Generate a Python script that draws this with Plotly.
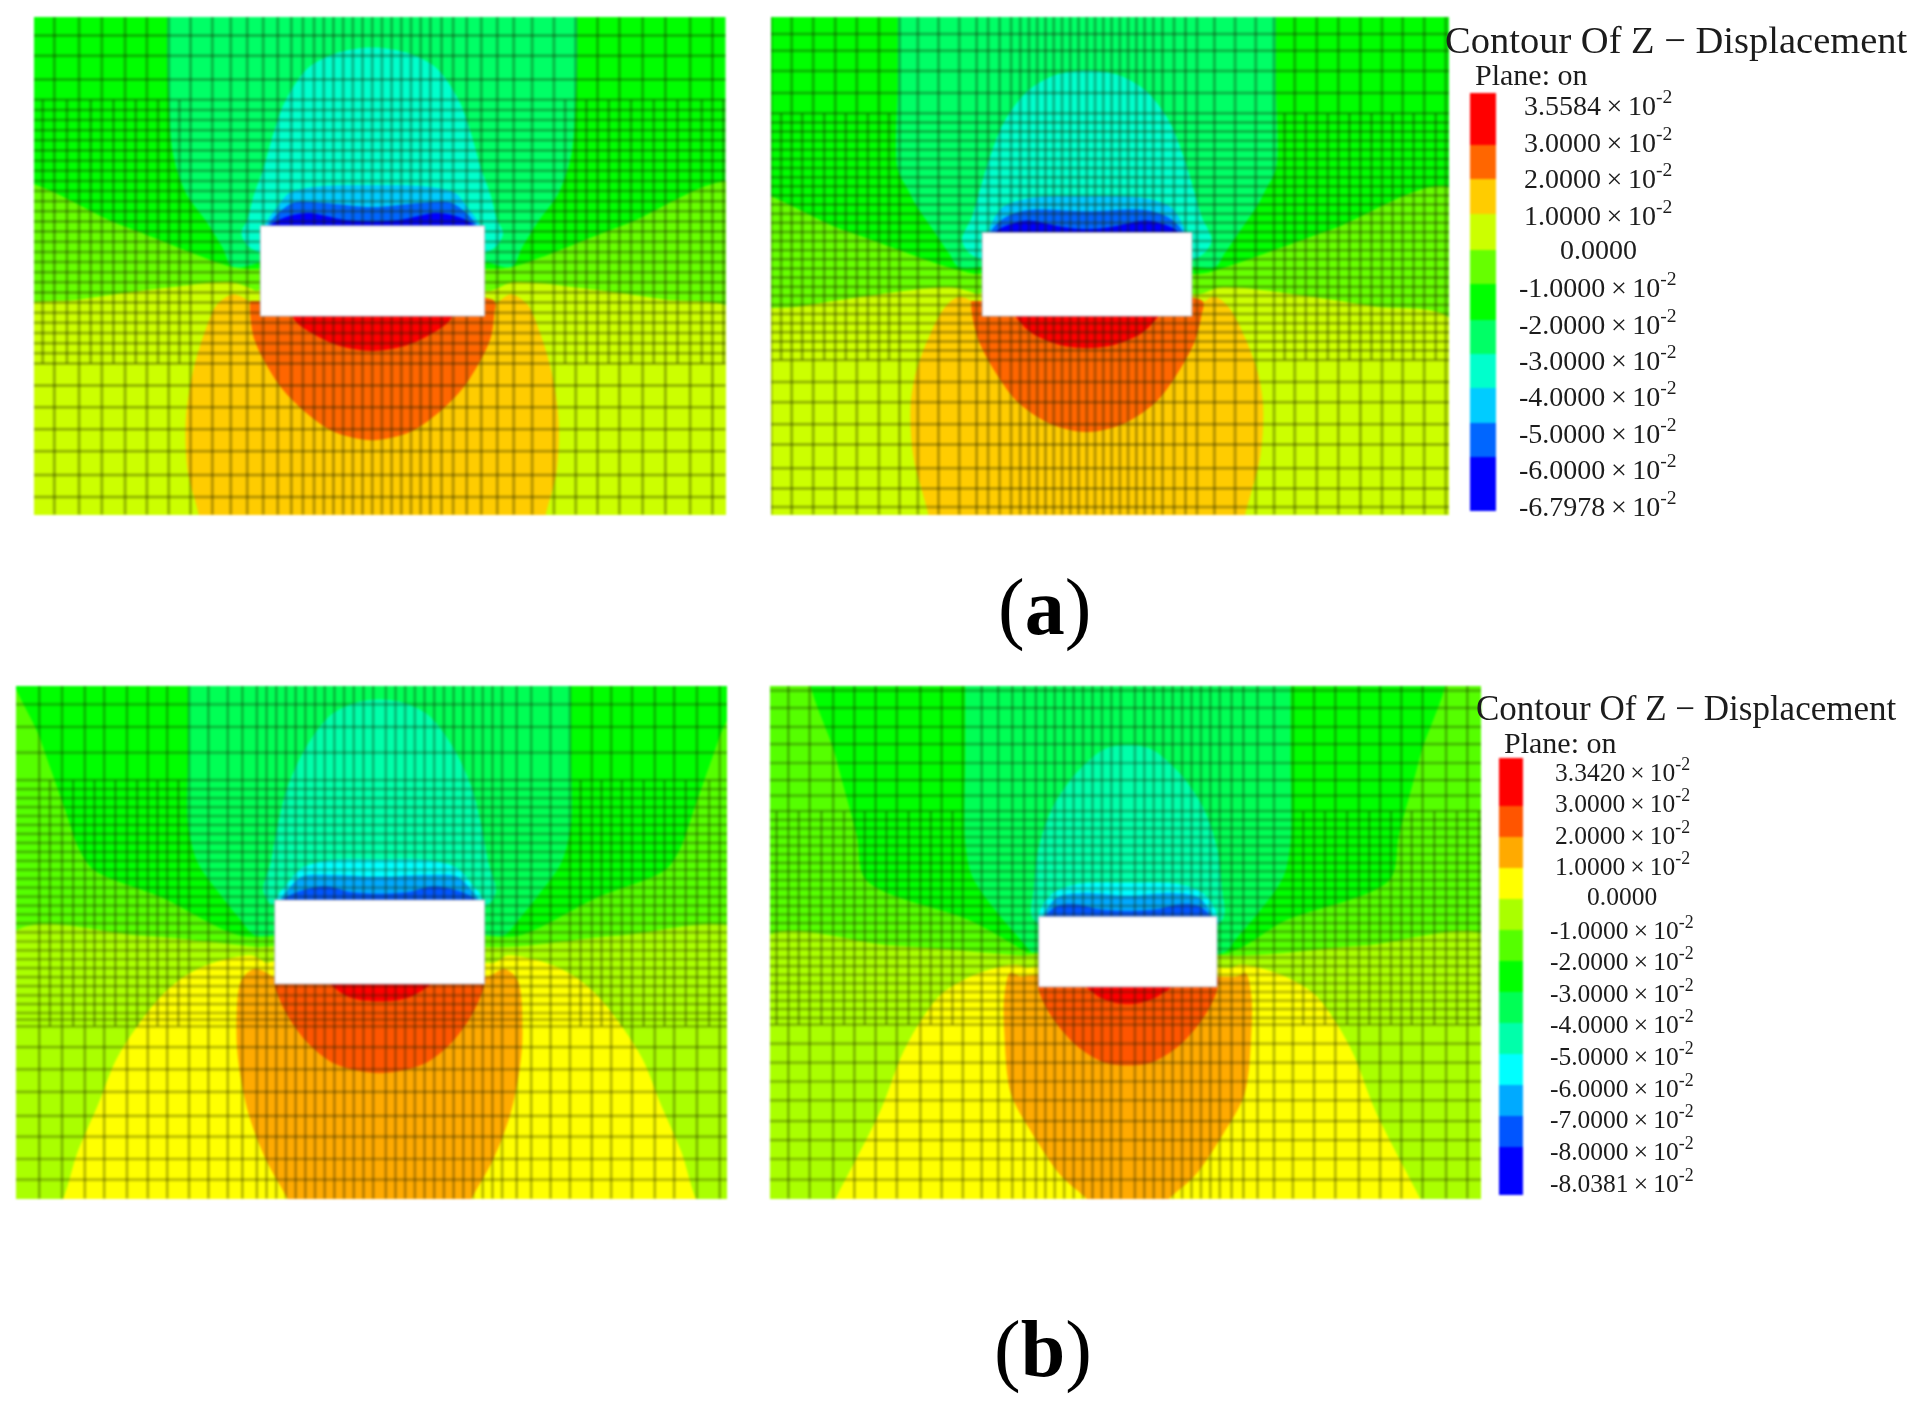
"""FLAC3D style Z-displacement contours around a tunnel, four panels plus two legends."""

from __future__ import annotations

import plotly.graph_objects as go

FONT = "Liberation Serif"

# legend colours, top to bottom
COLORS_A = ["#ff0000", "#ff6600", "#ffcc00", "#ccff00", "#66ff00", "#00ff00",
            "#00ff66", "#00ffcc", "#00ccff", "#0066ff", "#0000ff"]
COLORS_B = ["#ff0000", "#ff5500", "#ffaa00", "#ffff00", "#aaff00", "#55ff00", "#00ff00",
            "#00ff55", "#00ffaa", "#00ffff", "#00aaff", "#0055ff", "#0000ff"]

LABELS_A = ["3.5584", "3.0000", "2.0000", "1.0000", "0.0000", "-1.0000", "-2.0000",
            "-3.0000", "-4.0000", "-5.0000", "-6.0000", "-6.7978"]
LABELS_B = ["3.3420", "3.0000", "2.0000", "1.0000", "0.0000", "-1.0000", "-2.0000", "-3.0000",
            "-4.0000", "-5.0000", "-6.0000", "-7.0000", "-8.0000", "-8.0381"]

LEGEND_EDGES_A = [275, 430, 530, 633, 738, 840, 945, 1047, 1147, 1250, 1352, 1510]
LEGEND_EDGES_B = [255, 395, 485, 575, 665, 755, 845, 935, 1025, 1115, 1205, 1295, 1385, 1525]

# contour outlines: (legend colour index, half outline as (offset from tunnel axis, depth))
# painted in this order, each mirrored about the tunnel axis
A1_BANDS = [
    (6, [(0, -50), (200, -50), (423, -50), (423, 50), (423, 180), (420, 300), (412, 450), (385, 570), (345, 650), (310, 730), (288, 790), (230, 775), (0, 775)]),
    (7, [(0, 140), (70, 155), (132, 200), (180, 300), (205, 400), (225, 500), (245, 580), (258, 650), (270, 690), (255, 730), (225, 750), (0, 750)]),
    (8, [(0, 548), (100, 550), (170, 570), (195, 610), (222, 668), (222, 700), (0, 700)]),
    (9, [(0, 612), (100, 600), (160, 598), (190, 625), (215, 668), (215, 700), (0, 700)]),
    (10, [(0, 655), (60, 650), (130, 630), (175, 640), (210, 668), (210, 700), (0, 700)]),
    (4, [(0, 780), (240, 795), (288, 790), (520, 665), (760, 545), (760, 1620), (0, 1620)]),
    (3, [(0, 780), (240, 860), (290, 835), (420, 850), (600, 885), (760, 930), (760, 1620), (0, 1620)]),
    (2, [(0, 800), (245, 900), (286, 870), (320, 900), (345, 980), (370, 1100), (385, 1250), (380, 1400), (358, 1522), (345, 1620), (0, 1620)]),
    (1, [(0, 1302), (78, 1278), (147, 1208), (195, 1133), (243, 1006), (252, 925), (252, 890), (0, 890)]),
    (0, [(0, 880), (170, 900), (160, 947), (125, 985), (70, 1022), (0, 1038)]),
]
A2_BANDS = [
    (6, [(0, -50), (200, -50), (412, -50), (412, 50), (412, 250), (412, 500), (390, 560), (375, 600), (335, 680), (300, 750), (280, 790), (230, 790), (0, 790)]),
    (7, [(0, 208), (70, 222), (130, 270), (180, 360), (210, 460), (235, 570), (250, 640), (272, 710), (255, 750), (225, 770), (0, 770)]),
    (8, [(0, 580), (120, 585), (185, 615), (215, 688), (215, 720), (0, 720)]),
    (9, [(0, 625), (130, 622), (180, 645), (210, 688), (210, 720), (0, 720)]),
    (10, [(0, 678), (50, 672), (130, 652), (170, 665), (200, 688), (200, 720), (0, 720)]),
    (4, [(0, 800), (245, 810), (303, 790), (530, 680), (800, 560), (800, 1620), (0, 1620)]),
    (3, [(0, 800), (240, 870), (290, 850), (450, 870), (620, 905), (800, 952), (800, 1620), (0, 1620)]),
    (2, [(0, 800), (240, 900), (278, 878), (310, 910), (345, 1000), (372, 1100), (384, 1200), (378, 1350), (345, 1522), (330, 1620), (0, 1620)]),
    (1, [(0, 1278), (78, 1255), (150, 1190), (195, 1110), (235, 1010), (250, 930), (252, 890), (0, 890)]),
    (0, [(0, 880), (170, 900), (150, 945), (120, 985), (60, 1020), (0, 1030)]),
]
B1_BANDS = [
    (6, [(0, -50), (760, -50), (700, 200), (650, 400), (620, 520), (590, 580), (450, 660), (290, 770), (200, 770), (0, 770)]),
    (7, [(0, -50), (200, -50), (395, -50), (395, 50), (395, 250), (395, 450), (375, 560), (330, 650), (290, 720), (258, 770), (220, 770), (0, 770)]),
    (8, [(0, 85), (50, 95), (100, 130), (150, 220), (190, 340), (210, 450), (225, 560), (240, 640), (225, 680), (0, 680)]),
    (9, [(0, 550), (100, 552), (160, 575), (190, 620), (215, 668), (215, 700), (0, 700)]),
    (10, [(0, 600), (100, 595), (160, 600), (190, 640), (205, 668), (205, 700), (0, 700)]),
    (11, [(0, 650), (60, 645), (110, 628), (160, 640), (200, 668), (200, 700), (0, 700)]),
    (4, [(0, 780), (250, 805), (500, 770), (760, 768), (760, 1620), (0, 1620)]),
    (3, [(0, 800), (235, 850), (263, 830), (343, 850), (403, 890), (453, 950), (503, 1040), (543, 1130), (583, 1270), (623, 1400), (653, 1535), (690, 1620), (0, 1620)]),
    (2, [(0, 800), (220, 890), (258, 868), (285, 900), (295, 1050), (290, 1150), (270, 1290), (235, 1420), (190, 1535), (160, 1620), (0, 1620)]),
    (1, [(0, 1170), (90, 1145), (150, 1080), (195, 990), (217, 912), (217, 890), (0, 890)]),
    (0, [(0, 880), (120, 890), (70, 945), (30, 960), (0, 962)]),
]
B2_BANDS = [
    (6, [(0, -50), (670, -50), (620, 250), (575, 480), (555, 610), (330, 730), (215, 820), (0, 820)]),
    (7, [(0, -50), (200, -50), (345, -50), (345, 50), (345, 250), (345, 500), (330, 600), (280, 700), (230, 780), (205, 820), (0, 820)]),
    (8, [(0, 218), (50, 230), (110, 300), (160, 400), (190, 520), (200, 640), (205, 710), (190, 740), (0, 740)]),
    (9, [(0, 618), (100, 620), (150, 640), (175, 670), (190, 716), (190, 740), (0, 740)]),
    (10, [(0, 655), (100, 648), (150, 660), (180, 716), (180, 740), (0, 740)]),
    (11, [(0, 700), (60, 695), (110, 680), (150, 685), (175, 716), (175, 740), (0, 740)]),
    (4, [(0, 800), (220, 830), (500, 800), (780, 785), (780, 1620), (0, 1620)]),
    (3, [(0, 820), (215, 865), (240, 855), (325, 885), (395, 940), (440, 1020), (480, 1120), (525, 1280), (620, 1535), (650, 1620), (0, 1620)]),
    (2, [(0, 860), (230, 890), (250, 880), (262, 950), (262, 1050), (248, 1230), (201, 1350), (141, 1470), (88, 1535), (40, 1620), (0, 1620)]),
    (1, [(0, 1148), (50, 1140), (110, 1090), (165, 1000), (190, 925), (190, 890), (0, 890)]),
    (0, [(0, 880), (105, 900), (60, 950), (20, 968), (0, 970)]),
]

# mesh lines: offsets of columns from the tunnel axis, extra columns inside the refined band, row depths
A1_COLUMNS = [0, 20, 40, 60, 80, 100, 120, 143, 167, 195, 225, 258, 292, 330, 375, 420, 465, 510, 558, 605, 656, 702]
A1_BAND_COLUMNS = [398, 442, 488, 534, 581, 630, 680, 725]
A1_ROWS = [105, 165, 235, 295, 325, 355, 385, 415, 445, 475, 505, 535, 565, 595, 625, 655, 685, 715, 745,
           775, 805, 835, 865, 895, 925, 955, 985, 1015, 1045, 1075, 1140, 1205, 1270, 1335, 1405, 1470]
A2_COLUMNS = [0, 18, 36, 54, 72, 90, 108, 126, 145, 165, 190, 215, 240, 278, 323, 368, 408, 453, 501, 548, 596, 643, 688, 735, 782]
A2_BAND_COLUMNS = [431, 477, 525, 572, 620, 666, 712, 760]
A2_ROWS = [100, 150, 210, 275, 335, 362, 389, 416, 443, 470, 497, 524, 551, 578, 605, 632, 659, 686, 713, 740, 767, 794,
           821, 848, 875, 902, 929, 956, 983, 1010, 1037, 1065, 1130, 1190, 1255, 1315, 1385, 1445, 1500]
B1_COLUMNS = [13, 33, 53, 73, 93, 113, 133, 153, 173, 193, 213, 233, 253, 283, 313, 353, 393, 438, 478, 521, 568, 608, 655, 702]
B1_BAND_COLUMNS = [415, 458, 500, 545, 588, 632, 680]
B1_ROWS = [100, 165, 240, 320, 346, 372, 398, 424, 450, 476, 502, 528, 554, 580, 606, 632, 658, 684, 710, 736, 762,
           788, 814, 840, 866, 892, 918, 945, 970, 996, 1015, 1035, 1095, 1160, 1225, 1295, 1355, 1420, 1480]
B2_COLUMNS = [15, 35, 55, 75, 95, 115, 135, 155, 175, 195, 220, 245, 275, 310, 350, 395, 440, 490, 535, 580, 625, 675, 720, 770]
B2_BAND_COLUMNS = [372, 418, 465, 512, 558, 602, 650, 698, 745]
B2_ROWS = [60, 110, 165, 215, 270, 320, 365, 410, 435, 460, 485, 510, 535, 560, 585, 610, 635, 660, 685, 710, 735, 760,
           785, 810, 835, 860, 885, 910, 935, 960, 985, 1010, 1030, 1085, 1140, 1195, 1250, 1310, 1365, 1420, 1480]

# panel specs. range = visible extent of the contour image, pixel = where it sits on the page
PANELS = [
    dict(axis="", bands=A1_BANDS, colors=COLORS_A, columns=A1_COLUMNS, band_columns=A1_BAND_COLUMNS, rows=A1_ROWS, mesh=3,
         axis_x=768, xr=(70, 1497), yr=(50, 1522), band_y=(295, 1075), tunnel=(537, 1000, 668, 935), pixel=(34, 725.5, 17, 514.5)),
    dict(axis="2", bands=A2_BANDS, colors=COLORS_A, columns=A2_COLUMNS, band_columns=A2_BAND_COLUMNS, rows=A2_ROWS, mesh=3,
         axis_x=733, xr=(45, 1522), yr=(50, 1522), band_y=(335, 1065), tunnel=(505, 962, 688, 935), pixel=(771, 1449, 17, 514.5)),
    dict(axis="3", bands=B1_BANDS, colors=COLORS_B, columns=B1_COLUMNS, band_columns=B1_BAND_COLUMNS, rows=B1_ROWS, mesh=2.7,
         axis_x=783, xr=(33, 1500), yr=(45, 1535), band_y=(320, 1035), tunnel=(567, 1000, 668, 912), pixel=(16, 727, 685.5, 1198.6)),
    dict(axis="4", bands=B2_BANDS, colors=COLORS_B, columns=B2_COLUMNS, band_columns=B2_BAND_COLUMNS, rows=B2_ROWS, mesh=2.7,
         axis_x=801, xr=(42, 1550), yr=(45, 1535), band_y=(410, 1030), tunnel=(612, 990, 716, 920), pixel=(770, 1481, 685.5, 1198.6)),
]

WIDTH, HEIGHT = 1919, 1411


def _px(x: float) -> float:
    return x / WIDTH


def _py(y: float) -> float:
    return 1 - y / HEIGHT


def _mirror(axis_x: float, outline: list[tuple[int, int]], tunnel) -> tuple[list[float], list[float]]:
    # spline paths get a cusp where they start, so start them behind the white tunnel
    if tunnel[2] < outline[-1][1] < tunnel[3]:
        outline = outline[::-1]
    right = [(axis_x + dx, y) for dx, y in outline]
    left = [(axis_x - dx, y) for dx, y in reversed(outline) if dx != 0]
    pts = right + left
    return [p[0] for p in pts], [p[1] for p in pts]


def _axes(fig: go.Figure, suffix: str, pixel, xr, yr) -> None:
    common = dict(showgrid=False, zeroline=False, showticklabels=False, ticks="", showline=False)
    fig.layout[f"xaxis{suffix}"] = dict(common, domain=[_px(pixel[0]), _px(pixel[1])], range=list(xr),
                                        anchor=f"y{suffix}")
    fig.layout[f"yaxis{suffix}"] = dict(common, domain=[_py(pixel[3]), _py(pixel[2])], range=[yr[1], yr[0]],
                                        anchor=f"x{suffix}")


def _add_panel(fig: go.Figure, p: dict) -> None:
    xref, yref = f"x{p['axis']}", f"y{p['axis']}"
    x0, x1 = p["xr"]
    y0, y1 = p["yr"]
    _axes(fig, p["axis"], p["pixel"], p["xr"], p["yr"])

    fig.add_trace(go.Scatter(x=[x0, x1, x1, x0], y=[y0, y0, y1, y1], fill="toself", fillcolor=p["colors"][5],
                             mode="none", xaxis=xref, yaxis=yref, hoverinfo="skip"))
    for idx, outline in p["bands"]:
        xs, ys = _mirror(p["axis_x"], outline, p["tunnel"])
        fig.add_trace(go.Scatter(x=xs, y=ys, fill="toself", fillcolor=p["colors"][idx], mode="lines",
                                 line=dict(width=0, shape="spline", smoothing=0.9, color=p["colors"][idx]),
                                 xaxis=xref, yaxis=yref, hoverinfo="skip"))

    # mesh
    mx, my = [], []
    for dx in p["columns"]:
        for c in {p["axis_x"] + dx, p["axis_x"] - dx}:
            mx += [c, c, None]
            my += [y0, y1, None]
    for dx in p["band_columns"]:
        for c in (p["axis_x"] + dx, p["axis_x"] - dx):
            mx += [c, c, None]
            my += [p["band_y"][0], p["band_y"][1], None]
    for r in p["rows"]:
        mx += [x0, x1, None]
        my += [r, r, None]
    fig.add_trace(go.Scatter(x=mx, y=my, mode="lines", line=dict(color="rgba(25,30,0,0.3)", width=p["mesh"]),
                             xaxis=xref, yaxis=yref, hoverinfo="skip"))

    tx0, tx1, ty0, ty1 = p["tunnel"]
    fig.add_trace(go.Scatter(x=[tx0, tx1, tx1, tx0, tx0], y=[ty0, ty0, ty1, ty1, ty0], fill="toself",
                             fillcolor="white", mode="lines", line=dict(color="#b9b9c8", width=1),
                             xaxis=xref, yaxis=yref, hoverinfo="skip"))


def _add_legend(fig, suffix, colors, edges, pixel) -> None:
    _axes(fig, suffix, pixel, (0, 1), (edges[0], edges[-1]))
    n = len(colors)
    scale = []
    for i, c in enumerate(colors):
        scale += [[i / n, c], [(i + 1) / n, c]]
    fig.add_trace(go.Heatmap(x=[0, 1], y=edges, z=[[i] for i in range(n)], colorscale=scale, zmin=0, zmax=n,
                             showscale=False, xaxis=f"x{suffix}", yaxis=f"y{suffix}", hoverinfo="skip"))


def _text(fig, x, y, text, size, color="#1c1c1c") -> None:
    fig.add_annotation(xref="paper", yref="paper", x=_px(x), y=_py(y), text=text,
                       showarrow=False, xanchor="center", yanchor="middle",
                       font=dict(family=FONT, size=size, color=color))


def _labels(fig, labels, xc, y_first, y_last, size) -> None:
    step = (y_last - y_first) / (len(labels) - 1)
    for i, lab in enumerate(labels):
        text = lab if lab == "0.0000" else f"{lab}\u2009×\u200910<sup>-2</sup>"
        _text(fig, xc, y_first + i * step, text, size)


fig = go.Figure()
for panel in PANELS:
    _add_panel(fig, panel)
_add_legend(fig, "5", COLORS_A, LEGEND_EDGES_A, (1470, 1496, 93, 510.5))
_add_legend(fig, "6", COLORS_B, LEGEND_EDGES_B, (1499, 1523, 758, 1195))

_text(fig, 1676, 40, "Contour Of Z − Displacement", 38.5)
_text(fig, 1531, 75, "Plane: on", 30)
_labels(fig, LABELS_A, 1598, 104, 504, 28)
_text(fig, 1686, 708, "Contour Of Z − Displacement", 35)
_text(fig, 1560, 742, "Plane: on", 30)
_labels(fig, LABELS_B, 1622, 770, 1181, 25.5)
_text(fig, 1044, 607, "(<b>a</b>)", 80, color="black")
_text(fig, 1043, 1349, "(<b>b</b>)", 80, color="black")

fig.update_layout(width=WIDTH, height=HEIGHT, margin=dict(l=0, r=0, t=0, b=0), showlegend=False,
                  paper_bgcolor="white", plot_bgcolor="rgba(0,0,0,0)")

fig.write_html(
    "out.html",
    config={"displayModeBar": False},
    post_script="document.body.style.margin='0';"
                "document.querySelectorAll('.cartesianlayer').forEach(function(n){n.style.filter='blur(1.1px)';});",
)
